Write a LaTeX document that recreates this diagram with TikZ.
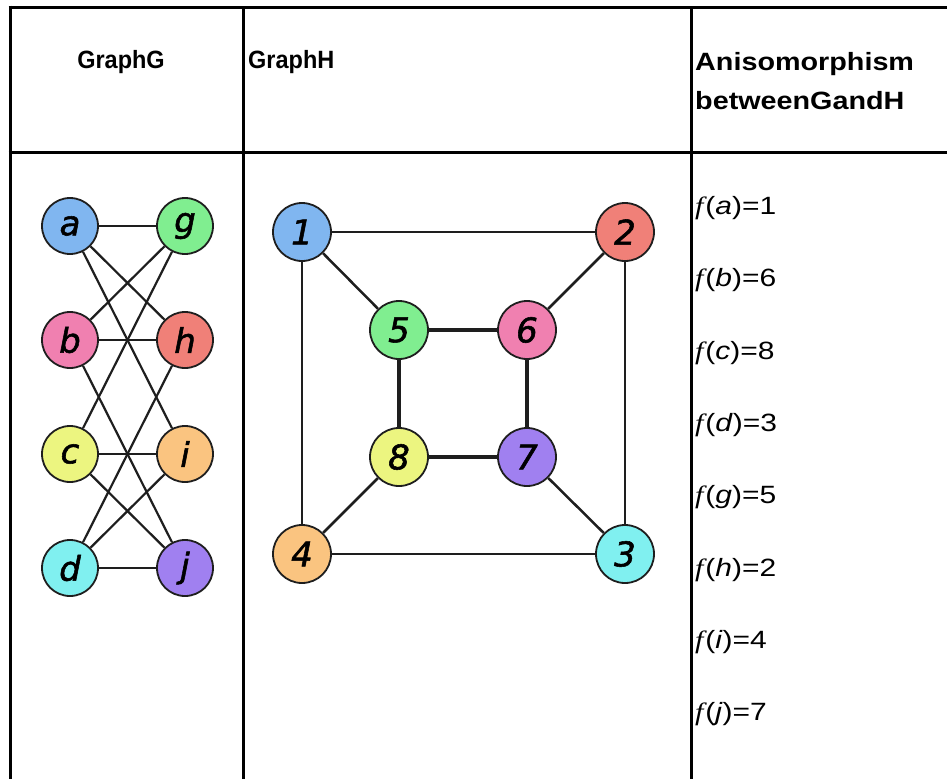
\documentclass[tikz,border=0pt]{standalone}
\usepackage{fontspec}
\setmainfont{Liberation Sans}
\newfontfamily\lblfont[ItalicFeatures={FakeBold=1.6}]{DejaVu Sans}
\newfontfamily\fserif{Liberation Serif}
\definecolor{cBlue}{RGB}{128,182,240}
\definecolor{cGreen}{RGB}{128,238,144}
\definecolor{cPink}{RGB}{240,128,176}
\definecolor{cSalmon}{RGB}{240,128,120}
\definecolor{cYellow}{RGB}{236,245,128}
\definecolor{cOrange}{RGB}{250,196,128}
\definecolor{cCyan}{RGB}{128,240,240}
\definecolor{cPurple}{RGB}{160,128,240}
\definecolor{edgeC}{RGB}{30,30,30}
\newcommand{\fmap}[2]{\scalebox{1.2}[1]{{\fserif\itshape f}\kern1.5pt(\textit{#1})=#2}}
\begin{document}
\begin{tikzpicture}[x=1pt,y=-1pt,
  tline/.style={line width=3pt,black},
  head/.style={font=\fontsize{25}{39}\selectfont\bfseries,inner sep=0pt},
  frow/.style={font=\fontsize{25}{28}\selectfont,inner sep=0pt,anchor=west},
  vtx/.style={circle,draw=edgeC,line width=1.8pt,inner sep=0pt,
    font=\lblfont\itshape\fontsize{34}{34}\selectfont},
  gv/.style={vtx,minimum size=56pt},
  hv/.style={vtx,minimum size=58pt},
  gedge/.style={line width=2.2pt,edgeC},
  hedge/.style={line width=2.5pt,edgeC},
  iedge/.style={line width=3.5pt,edgeC}]
\useasboundingbox (0,0) rectangle (947,779);
% table
\draw[tline] (8.5,7) -- (947,7);
\draw[tline] (8.5,152) -- (947,152);
\draw[tline] (10,5.5) -- (10,779);
\draw[tline] (243,7) -- (243,779);
\draw[tline] (691,7) -- (691,779);
% headers
\node[head] (hG) at (121,62) {\scalebox{0.94}[1]{GraphG}};
\node[head,anchor=west] (hH) at (248,62) {\scalebox{0.94}[1]{GraphH}};
\node[head,anchor=west,align=left] (hI) at (695,81) {\scalebox{1.15}[1]{Anisomorphism}\\\scalebox{1.15}[1]{betweenGandH}};
% mapping rows
\node[frow] (r1) at (695,208) {\fmap{a}{1}};
\node[frow] (r2) at (695,280) {\fmap{b}{6}};
\node[frow] (r3) at (695,353) {\fmap{c}{8}};
\node[frow] (r4) at (695,425) {\fmap{d}{3}};
\node[frow] (r5) at (695,497) {\fmap{g}{5}};
\node[frow] (r6) at (695,570) {\fmap{h}{2}};
\node[frow] (r7) at (695,642) {\fmap{i}{4}};
\node[frow] (r8) at (695,714) {\fmap{j}{7}};
% Graph G
\node[gv,fill=cBlue]   (a) at (70,226) {a};
\node[gv,fill=cGreen]  (g) at (185,226) {g};
\node[gv,fill=cPink]   (b) at (70,340) {b};
\node[gv,fill=cSalmon] (h) at (185,340) {h};
\node[gv,fill=cYellow] (c) at (70,454) {c};
\node[gv,fill=cOrange] (i) at (185,454) {i};
\node[gv,fill=cCyan]   (d) at (70,568) {d};
\node[gv,fill=cPurple] (j) at (185,568) {j};
\draw[gedge] (a) -- (g);
\draw[gedge] (b) -- (h);
\draw[gedge] (c) -- (i);
\draw[gedge] (d) -- (j);
\draw[gedge] (a) -- (h);
\draw[gedge] (a) -- (i);
\draw[gedge] (g) -- (b);
\draw[gedge] (g) -- (c);
\draw[gedge] (b) -- (j);
\draw[gedge] (c) -- (j);
\draw[gedge] (h) -- (d);
\draw[gedge] (i) -- (d);
% Graph H
\node[hv,fill=cBlue]   (n1) at (302,232) {1};
\node[hv,fill=cSalmon] (n2) at (625,232) {2};
\node[hv,fill=cCyan]   (n3) at (625,554) {3};
\node[hv,fill=cOrange] (n4) at (302,554) {4};
\node[hv,fill=cGreen]  (n5) at (399,330) {5};
\node[hv,fill=cPink]   (n6) at (527,330) {6};
\node[hv,fill=cPurple] (n7) at (527,457) {7};
\node[hv,fill=cYellow] (n8) at (399,457) {8};
\draw[hedge] (n1) -- (n2);
\draw[hedge] (n2) -- (n3);
\draw[hedge] (n3) -- (n4);
\draw[hedge] (n4) -- (n1);
\draw[hedge] (n1) -- (n5);
\draw[hedge] (n2) -- (n6);
\draw[hedge] (n3) -- (n7);
\draw[hedge] (n4) -- (n8);
\draw[iedge] (n5) -- (n6);
\draw[iedge] (n6) -- (n7);
\draw[iedge] (n7) -- (n8);
\draw[iedge] (n8) -- (n5);
\end{tikzpicture}
\end{document}
